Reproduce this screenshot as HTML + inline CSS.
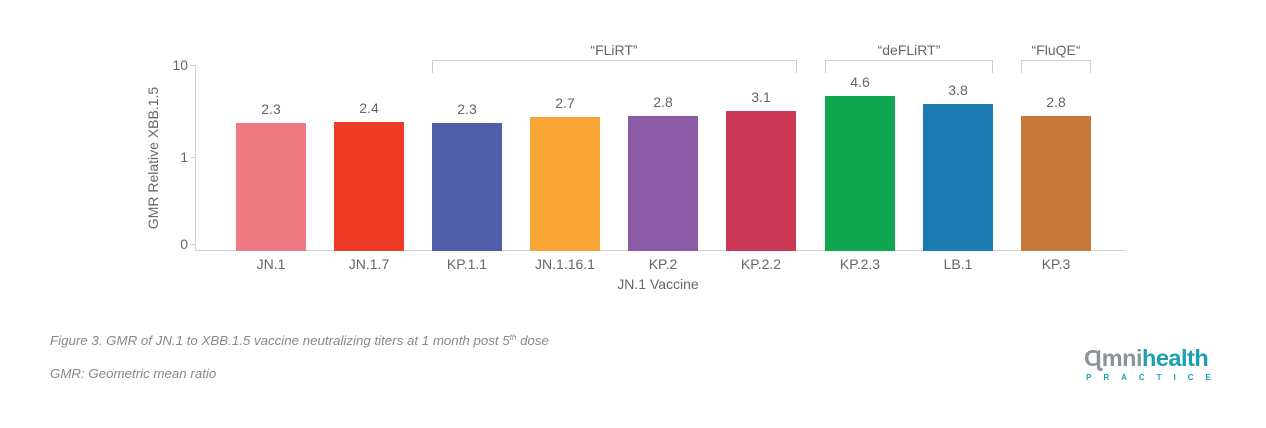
<!DOCTYPE html>
<html><head><style>
body{margin:0;width:1266px;height:423px;background:#fff;font-family:"Liberation Sans",sans-serif;overflow:hidden}
svg text{font-family:"Liberation Sans",sans-serif}
</style></head><body>
<svg width="1266" height="423" xmlns="http://www.w3.org/2000/svg">
<g stroke="#cfcfcf" stroke-width="1" fill="none">
<line x1="195.5" y1="65" x2="195.5" y2="251"/>
<line x1="195" y1="250.5" x2="1125" y2="250.5"/>
<line x1="190" y1="65.5" x2="195" y2="65.5"/>
<line x1="190" y1="157.5" x2="195" y2="157.5"/>
<line x1="190" y1="244.5" x2="195" y2="244.5"/>
<polyline points="432.5,73 432.5,60.5 796.5,60.5 796.5,73"/>
<polyline points="825.5,73 825.5,60.5 992.5,60.5 992.5,73"/>
<polyline points="1021.5,73 1021.5,60.5 1090.5,60.5 1090.5,73"/>
</g>
<g font-size="14" fill="#666" text-anchor="end">
<text x="188" y="70">10</text><text x="188" y="162">1</text><text x="188" y="249">0</text>
</g>
<text transform="translate(158,158) rotate(-90)" font-size="14" fill="#666" text-anchor="middle">GMR Relative XBB.1.5</text>
<g>
<rect x="236" y="123" width="70" height="128" fill="#f07a84"/>
<rect x="334" y="122" width="70" height="129" fill="#ee3b24"/>
<rect x="432" y="123" width="70" height="128" fill="#505eaa"/>
<rect x="530" y="117" width="70" height="134" fill="#f9a533"/>
<rect x="628" y="116" width="70" height="135" fill="#8c5ca6"/>
<rect x="726" y="111" width="70" height="140" fill="#cb3856"/>
<rect x="825" y="96" width="70" height="155" fill="#0fa64f"/>
<rect x="923" y="104" width="70" height="147" fill="#1c7bb0"/>
<rect x="1021" y="116" width="70" height="135" fill="#c57837"/>
</g>
<g font-size="14" fill="#666" text-anchor="middle">
<text x="271" y="114">2.3</text><text x="369" y="113">2.4</text><text x="467" y="114">2.3</text>
<text x="565" y="108">2.7</text><text x="663" y="107">2.8</text><text x="761" y="102">3.1</text>
<text x="860" y="87">4.6</text><text x="958" y="95">3.8</text><text x="1056" y="107">2.8</text>
<text x="614" y="55">“FLiRT”</text><text x="909" y="55">“deFLiRT”</text><text x="1056" y="55">“FluQE“</text>
<text x="271" y="269">JN.1</text><text x="369" y="269">JN.1.7</text><text x="467" y="269">KP.1.1</text>
<text x="565" y="269">JN.1.16.1</text><text x="663" y="269">KP.2</text><text x="761" y="269">KP.2.2</text>
<text x="860" y="269">KP.2.3</text><text x="958" y="269">LB.1</text><text x="1056" y="269">KP.3</text>
<text x="658" y="289">JN.1 Vaccine</text>
</g>
<g font-size="13.3" fill="#888" font-style="italic">
<text x="50" y="345">Figure 3. GMR of JN.1 to XBB.1.5 vaccine neutralizing titers at 1 month post 5<tspan font-size="8" dy="-5">th</tspan><tspan dy="5"> dose</tspan></text>
<text x="50" y="378">GMR: Geometric mean ratio</text>
</g>
<text x="1084" y="366" font-size="23.5" font-weight="bold" fill="#8a9499" letter-spacing="-0.5">Ɋmni<tspan fill="#1a9fb0">health</tspan></text>
<text x="1086" y="380" font-size="8" font-weight="bold" fill="#1a9fb0" letter-spacing="12">PRACTICE</text>
</svg>
</body></html>
